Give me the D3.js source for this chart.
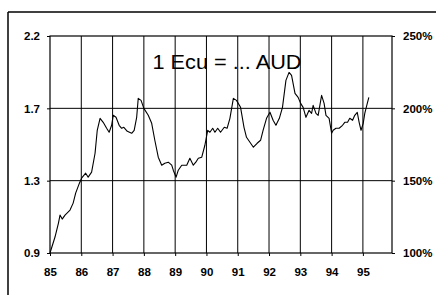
<!DOCTYPE html>
<html><head><meta charset="utf-8">
<script src="https://cdn.jsdelivr.net/npm/d3@7"></script>
<style>
html,body{margin:0;padding:0;background:#fff;}
svg{display:block;}
text{font-family:"Liberation Sans",Arial,sans-serif;fill:#000;}
</style></head>
<body><svg id="c" width="442" height="295"></svg>
<script>
// Time in decimal years (85 = Jan 1985), value = AUD per 1 Ecu
const years = [85.00,85.16,85.27,85.32,85.39,85.48,85.64,85.74,85.82,85.94,86.01,86.14,86.22,86.33,86.44,86.51,86.60,86.70,86.81,86.89,86.97,87.02,87.11,87.21,87.29,87.36,87.47,87.61,87.69,87.77,87.82,87.91,88.00,88.14,88.25,88.35,88.46,88.57,88.67,88.78,88.89,88.94,89.03,89.10,89.21,89.37,89.47,89.58,89.66,89.74,89.85,89.95,90.04,90.11,90.20,90.27,90.36,90.45,90.57,90.66,90.75,90.86,90.96,91.09,91.20,91.28,91.39,91.50,91.62,91.73,91.81,91.92,92.03,92.13,92.22,92.33,92.43,92.54,92.64,92.72,92.83,92.93,93.01,93.09,93.18,93.28,93.36,93.41,93.50,93.57,93.68,93.76,93.82,93.92,94.00,94.05,94.14,94.24,94.35,94.42,94.51,94.58,94.67,94.74,94.82,94.88,94.94,95.01,95.06,95.14,95.19];
const rates = [0.87,0.966,1.05,1.098,1.074,1.098,1.128,1.17,1.23,1.29,1.32,1.35,1.326,1.356,1.47,1.608,1.68,1.656,1.62,1.596,1.638,1.698,1.686,1.638,1.62,1.626,1.602,1.59,1.608,1.686,1.80,1.788,1.74,1.698,1.65,1.548,1.446,1.398,1.41,1.416,1.398,1.368,1.326,1.368,1.398,1.398,1.44,1.398,1.416,1.44,1.446,1.518,1.608,1.596,1.62,1.596,1.62,1.596,1.626,1.62,1.68,1.80,1.788,1.746,1.626,1.566,1.536,1.506,1.53,1.548,1.608,1.68,1.716,1.668,1.638,1.68,1.746,1.908,1.956,1.938,1.83,1.806,1.77,1.746,1.686,1.728,1.71,1.758,1.71,1.698,1.818,1.77,1.698,1.68,1.59,1.608,1.62,1.62,1.638,1.656,1.656,1.68,1.668,1.698,1.716,1.656,1.608,1.65,1.71,1.77,1.806];
const yearTicks = [85,86,87,88,89,90,91,92,93,94,95];
const pctTicks = [100,150,200,250];
const baseRate = 0.87; // rate corresponding to 100%
const title = "1 Ecu = ... AUD";

const svg = d3.select("#c");
const L = 50, R = 392, T = 36, B = 253;

const x = d3.scaleLinear().domain([85, 95.93]).range([L, R]);
const yP = d3.scaleLinear().domain([100, 250]).range([B, T]);
const yV = d3.scaleLinear().domain([baseRate, baseRate * 2.5]).range([B, T]);

// outer frame
svg.append("line").attr("x1", 8).attr("x2", 436).attr("y1", 12).attr("y2", 12)
  .attr("stroke", "#000").attr("stroke-width", 1.5);
svg.append("line").attr("x1", 8).attr("x2", 8).attr("y1", 12).attr("y2", 295)
  .attr("stroke", "#000").attr("stroke-width", 1.5);

// gridlines
const g = svg.append("g");
g.selectAll("line.v").data(yearTicks.slice(1)).join("line")
  .attr("x1", d => x(d)).attr("x2", d => x(d)).attr("y1", T).attr("y2", B)
  .attr("stroke", "#000").attr("stroke-width", 1);
g.selectAll("line.h").data([150, 200]).join("line")
  .attr("x1", L).attr("x2", R).attr("y1", d => yP(d)).attr("y2", d => yP(d))
  .attr("stroke", "#000").attr("stroke-width", 1);
g.append("rect").attr("x", L).attr("y", T).attr("width", R - L).attr("height", B - T)
  .attr("fill", "none").attr("stroke", "#000").attr("stroke-width", 1.2);

// axes
const fontCss = "font-family:'Liberation Sans',Arial,sans-serif;font-size:11.5px;font-weight:bold";
const ax = svg.append("g").attr("transform", `translate(0,${B})`)
  .call(d3.axisBottom(x).tickValues(yearTicks).tickSize(3).tickPadding(12).tickFormat(d3.format("d")));
const ayl = svg.append("g").attr("transform", `translate(${L},0)`)
  .call(d3.axisLeft(yV).tickValues(pctTicks.map(p => baseRate * p / 100)).tickSize(3).tickPadding(7).tickFormat(d3.format(".1f")));
const ayr = svg.append("g").attr("transform", `translate(${R},0)`)
  .call(d3.axisRight(yP).tickValues(pctTicks).tickSize(3).tickPadding(8).tickFormat(d => d + "%"));
[ax, ayl, ayr].forEach(a => {
  a.select(".domain").remove();
  a.selectAll(".tick line").attr("stroke", "#000");
  a.selectAll("text").attr("style", fontCss).attr("fill", "#000");
});

// line
const line = d3.line().x((d, i) => x(years[i])).y(d => yV(d));
svg.append("path").datum(rates).attr("d", line)
  .attr("fill", "none").attr("stroke", "#000").attr("stroke-width", 1.1)
  .attr("stroke-linejoin", "round");

// title
svg.append("text").attr("x", 227).attr("y", 69).attr("text-anchor", "middle")
  .attr("font-size", 19.5).attr("textLength", 149).attr("lengthAdjust", "spacingAndGlyphs")
  .text(title);
</script></body></html>
